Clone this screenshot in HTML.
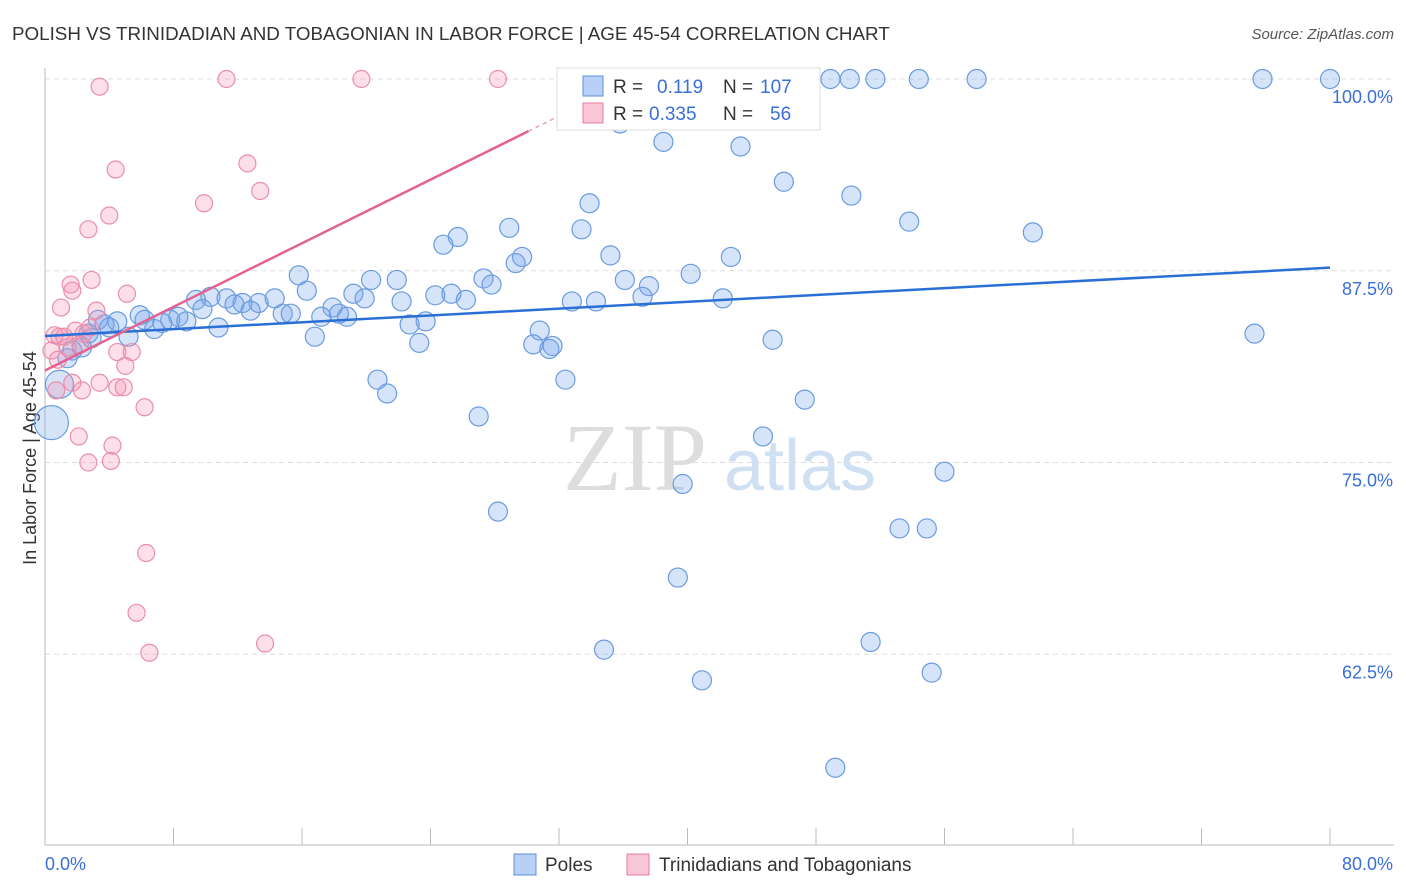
<!DOCTYPE html>
<html><head><meta charset="utf-8"><style>
body{margin:0;background:#fff;font-family:"Liberation Sans",sans-serif;}
svg{display:block}
</style></head><body>
<svg id="chart" width="1406" height="892">
<text x="12" y="40" font-size="18.8" fill="#333">POLISH VS TRINIDADIAN AND TOBAGONIAN IN LABOR FORCE | AGE 45-54 CORRELATION CHART</text>
<text x="1394" y="39" font-size="15" fill="#555" text-anchor="end" font-style="italic">Source: ZipAtlas.com</text>
<text x="36" y="458" font-size="18" fill="#333" text-anchor="middle" transform="rotate(-90 36 458)">In Labor Force | Age 45-54</text>
<g><text x="635" y="490" font-size="96" fill="#ddd" font-family="Liberation Serif,serif" text-anchor="middle">ZIP</text><text x="800" y="490" font-size="72" fill="#cfe0f3" text-anchor="middle">atlas</text></g>
<g id="grid"></g><g id="axes"></g><g id="pts"></g><g id="trend"></g>
<g>
<rect x="557" y="68" width="263" height="62" fill="#fff" stroke="#ddd"/>
<rect x="583" y="76" width="20" height="20" fill="#b8d0f5" stroke="#5b8fd8"/>
<text x="613" y="93" font-size="19" fill="#333">R =</text><text x="657" y="93" font-size="19" fill="#3a6fd8">0.119</text>
<text x="723" y="93" font-size="19" fill="#333">N =</text><text x="760" y="93" font-size="19" fill="#3a6fd8">107</text>
<rect x="583" y="103" width="20" height="20" fill="#f9c6d5" stroke="#e87fa0"/>
<text x="613" y="120" font-size="19" fill="#333">R =</text><text x="649" y="120" font-size="19" fill="#3a6fd8">0.335</text>
<text x="723" y="120" font-size="19" fill="#333">N =</text><text x="770" y="120" font-size="19" fill="#3a6fd8">56</text>
</g>
<g>
<rect x="514" y="854" width="22" height="21" fill="#b8d0f5" stroke="#5b8fd8"/>
<text x="545" y="871" font-size="19" fill="#333">Poles</text>
<rect x="627" y="854" width="22" height="21" fill="#f9c6d5" stroke="#e87fa0"/>
<text x="659" y="871" font-size="19" fill="#333">Trinidadians and Tobagonians</text>
</g>
</svg>
<script>
const yTicks=[100,87.5,75,62.5];
const yTickLabels=["100.0%","87.5%","75.0%","62.5%"];
const polesX=[36.7,48.9,50.1,51.7,54.4,58.0,75.8,80.0,41.9,35.8,38.5,43.3,46.0,50.2,33.9,53.8,28.9,33.4,61.5,25.7,24.8,35.2,29.7,29.3,42.7,15.8,27.3,20.3,21.9,36.1,40.2,27.8,37.6,16.3,19.2,25.3,24.3,26.2,19.9,10.3,11.3,9.4,14.3,13.3,22.2,37.2,32.8,34.3,42.2,11.8,12.3,9.8,12.8,17.9,18.3,14.8,15.3,17.2,18.8,5.9,6.2,8.3,7.8,7.3,8.8,4.5,3.3,3.7,4.0,6.8,10.8,22.7,23.7,16.8,30.8,5.2,2.7,2.9,23.3,30.4,31.4,31.6,45.3,75.3,2.3,1.7,1.4,20.7,32.4,21.3,47.3,0.9,27.0,44.7,56.0,39.7,28.2,53.2,54.9,39.4,34.8,51.4,40.9,55.2,49.2,0.4];
const polesY=[100,100,100,100,100,100,100,100,98.8,97.1,95.9,95.6,93.3,92.4,91.9,90.7,90.3,90.2,90.0,89.7,89.2,88.5,88.4,88.0,88.4,87.2,87.0,86.9,86.9,86.9,87.3,86.6,86.5,86.2,86.0,86.0,85.9,85.6,85.7,85.8,85.7,85.6,85.7,85.4,85.5,85.8,85.5,85.5,85.7,85.3,85.4,85.0,84.9,85.1,84.7,84.7,84.7,84.5,84.5,84.6,84.3,84.5,84.3,84.1,84.2,84.2,84.3,84.0,83.8,83.7,83.8,84.0,84.2,83.2,83.6,83.2,83.4,83.1,82.8,82.7,82.4,82.6,83.0,83.4,82.5,82.3,81.8,80.4,80.4,79.5,79.1,80.1,78.0,76.7,74.4,73.6,71.8,70.7,70.7,67.5,62.8,63.3,60.8,61.3,55.1,77.6];
const triniX=[3.4,11.3,19.7,28.2,12.6,4.4,13.4,9.9,4.0,2.7,2.9,1.6,1.7,5.1,1.0,3.2,0.6,0.9,1.2,1.9,2.4,2.8,2.2,1.4,0.4,0.8,4.5,5.4,5.0,1.7,3.4,4.5,4.9,2.3,6.2,2.1,4.2,2.7,4.1,6.3,5.7,6.5,13.7,0.7];
const triniY=[99.5,100,100,100,94.5,94.1,92.7,91.9,91.1,90.2,86.9,86.6,86.2,86.0,85.1,84.9,83.3,83.2,83.2,83.6,83.4,83.8,82.7,82.5,82.3,81.7,82.2,82.2,81.3,80.2,80.2,79.9,79.9,79.7,78.6,76.7,76.1,75.0,75.1,69.1,65.2,62.6,63.2,79.7];
const polesTrend=[83.25,87.7];
const triniTrend=[81.0,96.6,30.1];
const NS="http://www.w3.org/2000/svg";
const X=v=>45+v/80*1285, Y=v=>79+(100-v)*15.34;
function mk(t,a,p){const e=document.createElementNS(NS,t);for(const k in a)e.setAttribute(k,a[k]);p.appendChild(e);return e;}
const grid=document.getElementById('grid'),axes=document.getElementById('axes'),pts=document.getElementById('pts'),tr=document.getElementById('trend');
yTicks.forEach((v,i)=>{
 const l=mk('line',{x1:45,x2:1394,y1:Y(v),y2:Y(v),stroke:'#ddd','stroke-dasharray':'5,4'},grid);
 
 
 const t=mk('text',{x:1393,y:Y(v)+24,'font-size':18,fill:'#3a6fd8','text-anchor':'end'},axes);t.textContent=yTickLabels[i];
 
 
});
mk('line',{x1:45,x2:45,y1:68,y2:845,stroke:'#bbb'},axes);
mk('line',{x1:45,x2:1394,y1:845,y2:845,stroke:'#bbb'},axes);
for(let i=0;i<=10;i++){mk('line',{x1:X(i*8),x2:X(i*8),y1:828,y2:845,stroke:'#bbb'},axes);}
let t1=mk('text',{x:45,y:870,'font-size':18,fill:'#3a6fd8'},axes);t1.textContent='0.0%';


let t2=mk('text',{x:1393,y:870,'font-size':18,fill:'#3a6fd8','text-anchor':'end'},axes);t2.textContent='80.0%';


polesX.forEach((x,i)=>{const r=(i>=polesX.length-1)?17:(x<1.5&&polesY[i]>79.9&&polesY[i]<80.5?14:9.5);
 const c=mk('circle',{cx:X(x),cy:Y(polesY[i]),r:r,fill:'rgba(120,165,235,0.3)',stroke:'#6a9be0','stroke-width':1.2},pts);
 
 });
triniX.forEach((x,i)=>{const c=mk('circle',{cx:X(x),cy:Y(triniY[i]),r:8.5,fill:'rgba(245,150,180,0.3)',stroke:'#ea8eab','stroke-width':1.2},pts);
 
 });
const pl=mk('line',{x1:X(0),y1:Y(polesTrend[0]),x2:X(80),y2:Y(polesTrend[1]),stroke:'#2a6fd6','stroke-width':2.5},tr);


const tl=mk('line',{x1:X(0),y1:Y(triniTrend[0]),x2:X(triniTrend[2]),y2:Y(triniTrend[1]),stroke:'#e4628f','stroke-width':2.5},tr);


const sl=(triniTrend[1]-triniTrend[0])/triniTrend[2];
mk('line',{x1:X(triniTrend[2]),y1:Y(triniTrend[1]),x2:X(33),y2:Y(triniTrend[0]+sl*33),stroke:'#e4a0b8','stroke-width':1.5,'stroke-dasharray':'4,4'},tr);
</script>
</body></html>
